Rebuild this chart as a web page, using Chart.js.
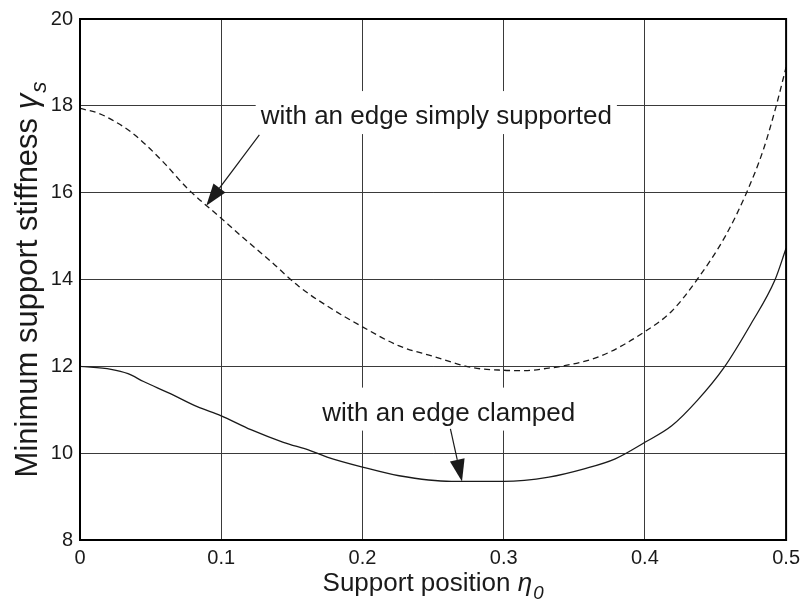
<!DOCTYPE html>
<html>
<head>
<meta charset="utf-8">
<title>Minimum support stiffness</title>
<script src="https://cdn.jsdelivr.net/npm/chart.js@4.4.0/dist/chart.umd.min.js"></script>
<style>
  html, body { margin: 0; padding: 0; background: #fff; }
  canvas { display: block; }
</style>
</head>
<body>
<canvas id="stiffnessChart" width="806" height="607"></canvas>
<script>
// support position eta_0 and minimum stiffness gamma_s, one pair of arrays per edge condition
const supportedPos = [0, 0.013, 0.023, 0.036, 0.048, 0.06, 0.076, 0.1, 0.116, 0.135, 0.155, 0.175, 0.2, 0.226, 0.249, 0.278, 0.3, 0.315, 0.332, 0.341, 0.369, 0.4, 0.419, 0.437, 0.457, 0.472, 0.484, 0.493, 0.5];
const supportedStiffness = [17.94, 17.83, 17.67, 17.4, 17.06, 16.67, 16.1, 15.41, 14.95, 14.42, 13.84, 13.39, 12.91, 12.47, 12.24, 11.97, 11.91, 11.9, 11.96, 12.0, 12.24, 12.8, 13.27, 14.0, 15.0, 16.0, 17.0, 18.0, 18.89];

const clampedPos = [0, 0.022, 0.034, 0.045, 0.064, 0.083, 0.1, 0.121, 0.144, 0.163, 0.175, 0.2, 0.226, 0.263, 0.3, 0.332, 0.357, 0.379, 0.4, 0.419, 0.437, 0.456, 0.475, 0.492, 0.5];
const clampedStiffness = [12.0, 11.93, 11.83, 11.65, 11.37, 11.07, 10.86, 10.54, 10.25, 10.06, 9.91, 9.68, 9.48, 9.35, 9.35, 9.45, 9.64, 9.87, 10.25, 10.63, 11.21, 11.97, 12.97, 13.98, 14.72];

const xTicks = [0, 0.1, 0.2, 0.3, 0.4, 0.5];
const yTicks = [8, 10, 12, 14, 16, 18, 20];

const FONT = '"Liberation Sans", Arial, Helvetica, sans-serif';
const INK = '#1a1a1a';

// callouts: text anchored at (x, baseline y), arrow from tail to tip, all in data units
const callouts = [
  { text: 'with an edge simply supported', x: 0.2523, y: 17.58, tail: [0.127, 17.33], tip: [0.0894, 15.70] },
  { text: 'with an edge clamped', x: 0.2611, y: 10.75, tail: [0.2623, 10.56], tip: [0.2705, 9.35] }
];

const toPoints = (xs, ys) => xs.map((x, i) => ({ x: x, y: ys[i] }));

// draws a run of text pieces; italic / subscript pieces get their own font
function drawRich(ctx, parts, size, x, y) {
  let cx = x;
  parts.forEach(p => {
    const s = p.sub ? size * 0.72 : size;
    ctx.font = (p.italic ? 'italic ' : '') + s + 'px ' + FONT;
    ctx.fillText(p.t, cx, y + (p.sub ? size * 0.3 : 0));
    cx += ctx.measureText(p.t).width + (p.italic && !p.sub ? 1 : 0);
  });
}
function richWidth(ctx, parts, size) {
  let w = 0;
  parts.forEach(p => {
    const s = p.sub ? size * 0.72 : size;
    ctx.font = (p.italic ? 'italic ' : '') + s + 'px ' + FONT;
    w += ctx.measureText(p.t).width + (p.italic && !p.sub ? 1 : 0);
  });
  return w;
}

const frame = {
  id: 'frame',
  afterDraw(chart) {
    const { ctx, chartArea: a } = chart;
    ctx.save();
    ctx.strokeStyle = '#000';
    ctx.lineWidth = 2;
    ctx.strokeRect(a.left, a.top, a.right - a.left, a.bottom - a.top);
    ctx.restore();
  }
};

const axisTitles = {
  id: 'axisTitles',
  afterDraw(chart) {
    const { ctx, chartArea: a } = chart;
    ctx.save();
    ctx.fillStyle = INK;
    ctx.textBaseline = 'alphabetic';
    ctx.textAlign = 'left';

    const xTitle = [{ t: 'Support position ' }, { t: 'η', italic: true }, { t: '0', italic: true, sub: true }];
    const xw = richWidth(ctx, xTitle, 26);
    drawRich(ctx, xTitle, 26, (a.left + a.right) / 2 - xw / 2, 591);

    const yTitle = [{ t: 'Minimum support stiffness ' }, { t: 'γ', italic: true }, { t: 's', italic: true, sub: true }];
    const yw = richWidth(ctx, yTitle, 31);
    ctx.translate(37, (a.top + a.bottom) / 2);
    ctx.rotate(-Math.PI / 2);
    drawRich(ctx, yTitle, 31, -yw / 2, 0);
    ctx.restore();
  }
};

const calloutPlugin = {
  id: 'callouts',
  // white patches under the text hide the grid there
  beforeDatasetsDraw(chart) {
    const { ctx, scales: { x, y } } = chart;
    ctx.save();
    ctx.font = '26px ' + FONT;
    ctx.fillStyle = '#fff';
    callouts.forEach(c => {
      const w = ctx.measureText(c.text).width;
      const cx = x.getPixelForValue(c.x);
      const by = y.getPixelForValue(c.y);
      ctx.fillRect(cx - w / 2 - 5, by - 33, w + 10, 43);
    });
    ctx.restore();
  },
  afterDatasetsDraw(chart) {
    const { ctx, scales: { x, y } } = chart;
    ctx.save();
    ctx.font = '26px ' + FONT;
    ctx.fillStyle = INK;
    ctx.strokeStyle = INK;
    ctx.textAlign = 'center';
    ctx.textBaseline = 'alphabetic';
    callouts.forEach(c => {
      ctx.fillText(c.text, x.getPixelForValue(c.x), y.getPixelForValue(c.y));

      const tx = x.getPixelForValue(c.tail[0]), ty = y.getPixelForValue(c.tail[1]);
      const px = x.getPixelForValue(c.tip[0]), py = y.getPixelForValue(c.tip[1]);
      const ang = Math.atan2(py - ty, px - tx);
      const headLen = 22, half = 7.5;
      const bx = px - headLen * Math.cos(ang), by = py - headLen * Math.sin(ang);

      ctx.lineWidth = 1.2;
      ctx.beginPath();
      ctx.moveTo(tx, ty);
      ctx.lineTo(bx, by);
      ctx.stroke();

      ctx.beginPath();
      ctx.moveTo(px, py);
      ctx.lineTo(bx + half * Math.sin(ang), by - half * Math.cos(ang));
      ctx.lineTo(bx - half * Math.sin(ang), by + half * Math.cos(ang));
      ctx.closePath();
      ctx.fill();
    });
    ctx.restore();
  }
};

const ctx = document.getElementById('stiffnessChart').getContext('2d');
new Chart(ctx, {
  type: 'line',
  data: {
    datasets: [
      {
        label: 'with an edge simply supported',
        data: toPoints(supportedPos, supportedStiffness),
        borderColor: INK,
        borderWidth: 1.3,
        borderDash: [6, 4],
        pointRadius: 0,
        fill: false,
        cubicInterpolationMode: 'monotone'
      },
      {
        label: 'with an edge clamped',
        data: toPoints(clampedPos, clampedStiffness),
        borderColor: INK,
        borderWidth: 1.3,
        pointRadius: 0,
        fill: false,
        cubicInterpolationMode: 'monotone'
      }
    ]
  },
  options: {
    responsive: false,
    animation: false,
    devicePixelRatio: 1,
    layout: { padding: { top: 17, right: 17, left: 0, bottom: 0 } },
    plugins: { legend: { display: false }, tooltip: { enabled: false } },
    scales: {
      x: {
        type: 'linear',
        min: 0,
        max: 0.5,
        afterBuildTicks: s => { s.ticks = xTicks.map(v => ({ value: v })); },
        afterFit: s => { s.height = 67; },
        ticks: {
          callback: v => (v === 0 ? '0' : v.toFixed(1)),
          color: INK,
          font: { family: FONT, size: 20 },
          padding: 6,
          maxRotation: 0,
          autoSkip: false
        },
        grid: { color: '#3a3a3a', lineWidth: 1, drawTicks: false },
        border: { display: false }
      },
      y: {
        type: 'linear',
        min: 8,
        max: 20,
        afterBuildTicks: s => { s.ticks = yTicks.map(v => ({ value: v })); },
        afterFit: s => { s.width = 80; },
        ticks: {
          color: INK,
          font: { family: FONT, size: 20 },
          padding: 7,
          autoSkip: false
        },
        grid: { color: '#3a3a3a', lineWidth: 1, drawTicks: false },
        border: { display: false }
      }
    }
  },
  plugins: [frame, calloutPlugin, axisTitles]
});
</script>
</body>
</html>
